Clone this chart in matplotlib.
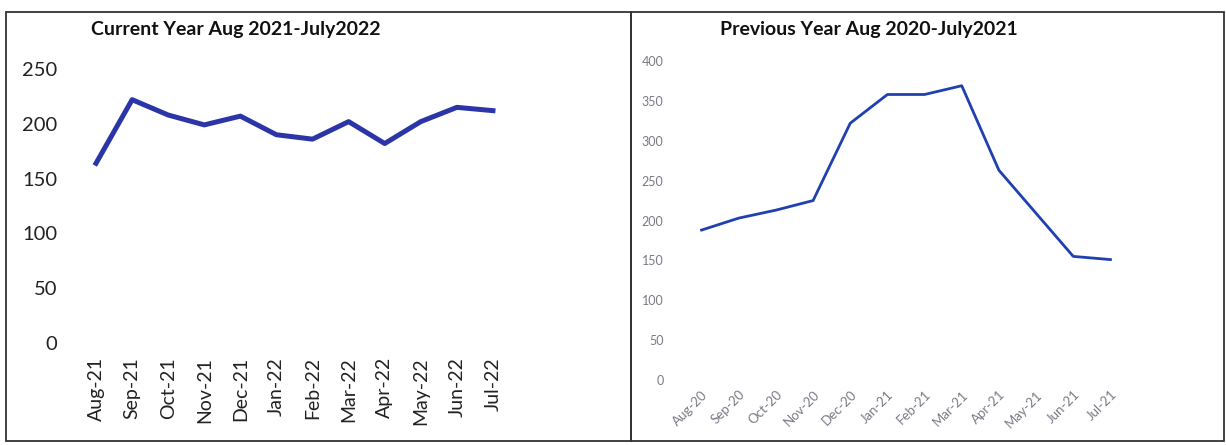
import numpy as np
import matplotlib
matplotlib.use("Agg")
import matplotlib.pyplot as plt
from matplotlib.patches import Rectangle

plt.rcParams['font.family'] = ['Lato', 'DejaVu Sans']

# data
cur_months = ['Aug-21', 'Sep-21', 'Oct-21', 'Nov-21', 'Dec-21', 'Jan-22',
              'Feb-22', 'Mar-22', 'Apr-22', 'May-22', 'Jun-22', 'Jul-22']
cur_vals = [164, 222, 208, 199, 207, 190, 186, 202, 182, 202, 215, 212]

prev_months = ['Aug-20', 'Sep-20', 'Oct-20', 'Nov-20', 'Dec-20', 'Jan-21',
               'Feb-21', 'Mar-21', 'Apr-21', 'May-21', 'Jun-21', 'Jul-21']
prev_vals = [188, 203, 213, 225, 322, 358, 358, 369, 263, 209, 155, 151]

W, H = 1226, 445
fig = plt.figure(figsize=(W / 100, H / 100), dpi=100)

def px_axes(x0, y0, x1, y1):
    # pixel box (top-left origin) -> figure axes
    return fig.add_axes([x0 / W, 1 - y1 / H, (x1 - x0) / W, (y1 - y0) / H])

# panel borders
for (x0, x1) in [(6, 631), (631, 1224)]:
    fig.patches.append(Rectangle((x0 / W, 1 - 441 / H), (x1 - x0) / W, (441 - 12) / H,
                                 transform=fig.transFigure, fill=False,
                                 edgecolor='#333333', linewidth=1.3))

# left chart
ax1 = px_axes(78, 69, 511, 343)
x = np.arange(len(cur_months))
ax1.plot(x, cur_vals, color='#2b35a8', linewidth=3.6, solid_joinstyle='round')
ax1.set_xlim(-0.5, 11.5)
ax1.set_ylim(0, 250)
ax1.set_yticks([0, 50, 100, 150, 200, 250])
ax1.set_xticks(x)
ax1.set_xticklabels(cur_months, rotation=90, fontsize=14, color='#222222')
ax1.tick_params(axis='y', labelsize=14.5, colors='#222222', length=0, pad=15)
ax1.tick_params(axis='x', length=0, pad=10)
for s in ax1.spines.values():
    s.set_visible(False)
fig.text(236 / W, 1 - 29 / H, 'Current Year Aug 2021-July2022', ha='center', va='center',
         fontsize=14, fontweight='bold', color='#111111')

# right chart
ax2 = px_axes(683, 61, 1129, 380)
x2 = np.arange(len(prev_months))
ax2.plot(x2, prev_vals, color='#2040b0', linewidth=2.0)
ax2.set_xlim(-0.5, 11.5)
ax2.set_ylim(0, 400)
ax2.set_yticks(np.arange(0, 401, 50))
ax2.set_xticks(x2)
ax2.set_xticklabels(prev_months, rotation=45, ha='right', rotation_mode='anchor',
                    fontsize=9.5, color='#7a7a86')
ax2.tick_params(axis='y', labelsize=9, colors='#7a7a86', length=0, pad=14)
ax2.tick_params(axis='x', length=0, pad=6)
for s in ax2.spines.values():
    s.set_visible(False)
fig.text(869 / W, 1 - 29 / H, 'Previous Year Aug 2020-July2021', ha='center', va='center',
         fontsize=14, fontweight='bold', color='#111111')

fig.savefig('out.png', dpi=100)
